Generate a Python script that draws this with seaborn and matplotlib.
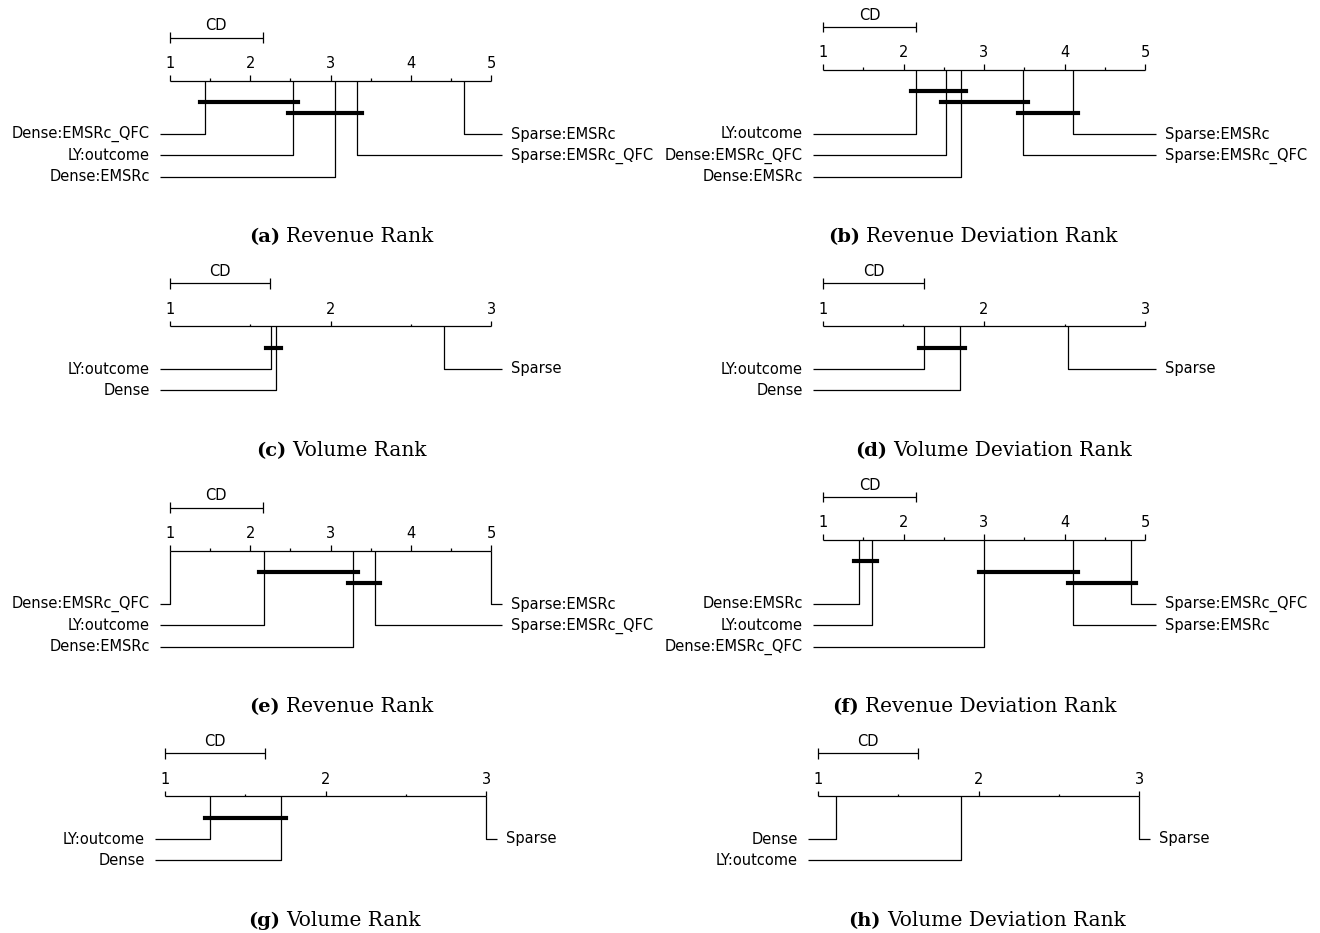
import math
import numpy as np
import pandas as pd
import matplotlib
matplotlib.use("Agg")
import matplotlib.pyplot as plt
from matplotlib.transforms import Bbox
import seaborn as sns

# ---------------- data (average ranks) ----------------
methods_a = ["Dense:EMSRc_QFC", "LY:outcome", "Dense:EMSRc", "Sparse:EMSRc_QFC", "Sparse:EMSRc"]
ranks_a = [1.43, 2.53, 3.05, 3.33, 4.66]

methods_b = ["LY:outcome", "Dense:EMSRc_QFC", "Dense:EMSRc", "Sparse:EMSRc_QFC", "Sparse:EMSRc"]
ranks_b = [2.16, 2.53, 2.71, 3.49, 4.11]

methods_c = ["LY:outcome", "Dense", "Sparse"]
ranks_c = [1.63, 1.66, 2.71]

methods_d = ["LY:outcome", "Dense", "Sparse"]
ranks_d = [1.63, 1.85, 2.52]

methods_e = ["Dense:EMSRc_QFC", "LY:outcome", "Dense:EMSRc", "Sparse:EMSRc_QFC", "Sparse:EMSRc"]
ranks_e = [1.00, 2.17, 3.28, 3.55, 5.00]

methods_f = ["Dense:EMSRc", "LY:outcome", "Dense:EMSRc_QFC", "Sparse:EMSRc", "Sparse:EMSRc_QFC"]
ranks_f = [1.45, 1.61, 3.00, 4.11, 4.83]

methods_g = ["LY:outcome", "Dense", "Sparse"]
ranks_g = [1.28, 1.72, 3.00]

methods_h = ["Dense", "LY:outcome", "Sparse"]
ranks_h = [1.11, 1.89, 3.00]

cd_values = [1.153, 1.153, 0.626, 0.626, 1.153, 1.153, 0.626, 0.626]
panel_tags = ["(a)", "(b)", "(c)", "(d)", "(e)", "(f)", "(g)", "(h)"]
panel_titles = ["Revenue Rank", "Revenue Deviation Rank", "Volume Rank", "Volume Deviation Rank",
                "Revenue Rank", "Revenue Deviation Rank", "Volume Rank", "Volume Deviation Rank"]

all_methods = [methods_a, methods_b, methods_c, methods_d, methods_e, methods_f, methods_g, methods_h]
all_ranks = [ranks_a, ranks_b, ranks_c, ranks_d, ranks_e, ranks_f, ranks_g, ranks_h]

# ---------------- layout (pixels) ----------------
W, H = 1320, 933
axis_px = [(170, 491), (823, 1145), (170, 491), (823, 1145),
           (170, 491), (823, 1145), (165, 486), (818, 1139)]
row0_px = [134, 134, 369, 369, 604, 604, 839, 839]
clip_px = [(0, 659), (660, 1309)] * 4
caption_px = [(286, 242), (866, 242), (292, 456), (893, 456),
              (286, 712), (865, 712), (286, 926), (887, 926)]

sns.set_theme(style="white")
plt.rcParams["font.family"] = ["DejaVu Sans"]
plt.rcParams["text.color"] = "black"

fig = plt.figure(figsize=(W / 100, H / 100), dpi=100)
fig.patch.set_facecolor("white")

U = 10.7      # 0.1 inch of the original diagram, in pixels
LW = 0.9
FS = 10.5


def get_lines(sums, hsd):
    n = len(sums)
    allpairs = [(i, j) for i in range(n) for j in range(n) if j > i]
    not_sig = [(i, j) for i, j in allpairs if abs(sums[i] - sums[j]) <= hsd]

    def no_longer(i, j):
        for i1, j1 in not_sig:
            if (i1 <= i and j1 > j) or (i1 < i and j1 >= j):
                return False
        return True

    return [(i, j) for i, j in not_sig if no_longer(i, j)]


def draw_panel(names, ranks, cd, xl, xh, row0, clip):
    ax = fig.add_axes([0, 0, 1, 1])
    ax.patch.set_alpha(0)
    lo = 1
    hi = max(len(ranks), int(math.ceil(max(ranks))))
    r = (hi - lo) / (xh - xl)  # rank units per pixel
    order = sorted(range(len(ranks)), key=lambda i: ranks[i])
    ss = [ranks[i] for i in order]
    nn = [names[i] for i in order]
    k = len(ss)
    lines = get_lines(ss, cd)
    mns = max(4, 4 + (len(lines) - 1)) * U
    ya = row0 - mns
    kw = dict(color="black", lw=LW, solid_capstyle="butt")
    cbox = Bbox.from_extents(clip[0], 0, clip[1], H)

    # scale
    ax.plot([lo, hi], [0, 0], **kw)
    for a in list(np.arange(lo, hi, 0.5)) + [hi]:
        t = U if a == int(a) else U / 2
        ax.plot([a, a], [-t / 2, 0], **kw)
    for a in range(lo, hi + 1):
        ax.text(a, -U + 1, str(a), ha="center", va="bottom", fontsize=FS)

    # method connectors and names
    half = math.ceil(k / 2)
    for i in range(half):
        y = mns + i * 2 * U
        ax.plot([ss[i], ss[i], lo - 10 * r], [0, y, y], **kw)
        t = ax.text(lo - 20 * r, y, nn[i], ha="right", va="center", fontsize=FS)
        t.set_clip_box(cbox)
        t.set_clip_on(True)
    for i in range(half, k):
        y = mns + (k - i - 1) * 2 * U
        ax.plot([ss[i], ss[i], hi + 11 * r], [0, y, y], **kw)
        t = ax.text(hi + 20 * r, y, nn[i], ha="left", va="center", fontsize=FS)
        t.set_clip_box(cbox)
        t.set_clip_on(True)

    # CD bar
    yc = -4 * U
    ax.plot([lo, lo + cd], [yc, yc], **kw)
    ax.plot([lo, lo], [yc - U / 2, yc + U / 2], **kw)
    ax.plot([lo + cd, lo + cd], [yc - U / 2, yc + U / 2], **kw)
    ax.text(lo + cd / 2, yc - U / 2 + 1, "CD", ha="center", va="bottom", fontsize=FS)

    # non-significance cliques
    if lines:
        rows = []
        for b, (li, ri) in enumerate(lines):
            y = 2 * U + b * U
            rows.append({"x": ss[li] - 5 * r, "y": y, "bar": b})
            rows.append({"x": ss[ri] + 5 * r, "y": y, "bar": b})
        df = pd.DataFrame(rows)
        sns.lineplot(data=df, x="x", y="y", units="bar", estimator=None,
                     color="black", linewidth=3.0, legend=False, ax=ax,
                     solid_capstyle="projecting")

    ax.set_xlim(lo - xl * r, lo + (W - xl) * r)
    ax.set_ylim(H - ya, -ya)
    ax.axis("off")


for p in range(8):
    xl, xh = axis_px[p]
    draw_panel(all_methods[p], all_ranks[p], cd_values[p], xl, xh, row0_px[p], clip_px[p])

cap = fig.add_axes([0, 0, 1, 1])
cap.patch.set_alpha(0)
cap.set_xlim(0, W)
cap.set_ylim(H, 0)
cap.axis("off")
for p in range(8):
    x, y = caption_px[p]
    cap.text(x - 6, y, panel_tags[p], ha="right", va="baseline",
             fontfamily="DejaVu Serif", fontweight="bold", fontsize=14)
    cap.text(x, y, panel_titles[p], ha="left", va="baseline",
             fontfamily="DejaVu Serif", fontsize=14.5)

fig.savefig("out.png", dpi=100, facecolor="white")
